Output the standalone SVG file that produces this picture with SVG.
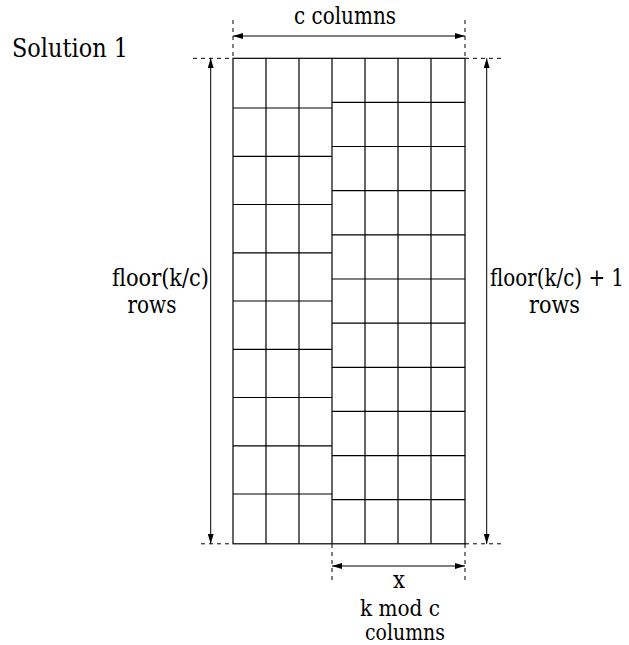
<svg xmlns="http://www.w3.org/2000/svg" width="629" height="645" viewBox="0 0 629 645">
<style>
.g{stroke:#000;stroke-width:1.2;fill:none}
.d{stroke:#000;stroke-width:1;stroke-dasharray:4 4;fill:none}
.a{stroke:#000;stroke-width:1;fill:none;marker-start:url(#ah);marker-end:url(#ah)}
</style>
<defs>
<marker id="ah" viewBox="0 0 10 6" refX="10" refY="3" markerWidth="10" markerHeight="6" markerUnits="userSpaceOnUse" orient="auto-start-reverse">
<path d="M0,0 L10,3 L0,6 Z" fill="#000"/>
</marker>
</defs>
<rect width="629" height="645" fill="#fff"/>
<g id="title" font-family="'DejaVu Serif', serif" font-size="25.5" fill="#000"><text x="12" y="57" textLength="116" lengthAdjust="spacingAndGlyphs">Solution 1</text></g>
<g id="grid">
<rect class="g" x="233" y="58.3" width="232" height="485.5"/>
<path class="g" d="M266,58.3V543.8M299,58.3V543.8M332,58.3V543.8M365,58.3V543.8M398,58.3V543.8M431,58.3V543.8"/>
<path class="g" d="M233,108H332M233,156.3H332M233,204.5H332M233,252.8H332M233,301H332M233,349.3H332M233,397.5H332M233,445.8H332M233,494H332"/>
<path class="g" d="M332,102.4H465M332,146.5H465M332,190.7H465M332,234.8H465M332,279H465M332,323.1H465M332,367.3H465M332,411.4H465M332,455.6H465M332,499.7H465"/>
</g>
<g id="connectors">
<path class="d" d="M233,20V58M465,20V58"/>
<path class="d" d="M193,58.3H233M465,58.3H501"/>
<path class="d" d="M201,543.8H233M465,543.8H501"/>
<path class="d" d="M332,544V582M465,544V582"/>
<path class="a" d="M233,36H465"/>
<path class="a" d="M332,566H465"/>
<path class="a" d="M210.7,58.3V543.8"/>
<path class="a" d="M486.7,58.3V543.8"/>
</g>
<g id="labels" font-family="'DejaVu Serif', serif" font-size="23.5" fill="#000">
<text x="294" y="24" textLength="102" lengthAdjust="spacingAndGlyphs">c columns</text>
<text x="112" y="286" textLength="97" lengthAdjust="spacingAndGlyphs">floor(k/c)</text>
<text x="127.5" y="313" textLength="49" lengthAdjust="spacingAndGlyphs">rows</text>
<text x="490" y="286" textLength="134" lengthAdjust="spacingAndGlyphs">floor(k/c) + 1</text>
<text x="529" y="313" textLength="51" lengthAdjust="spacingAndGlyphs">rows</text>
<text x="393" y="588" textLength="12" lengthAdjust="spacingAndGlyphs">x</text>
<text x="360" y="615.5" font-size="22" textLength="80" lengthAdjust="spacingAndGlyphs">k mod c</text>
<text x="365" y="640" font-size="22" textLength="80" lengthAdjust="spacingAndGlyphs">columns</text>
</g>
</svg>
